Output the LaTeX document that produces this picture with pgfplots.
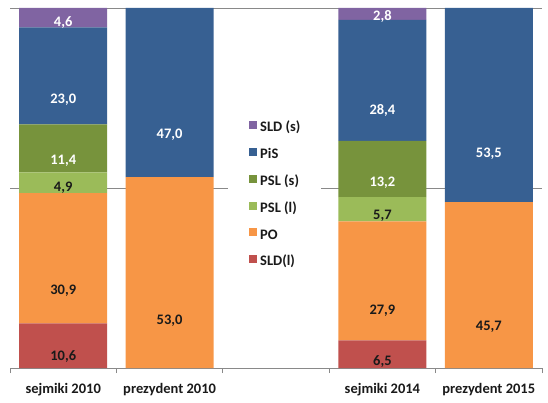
\documentclass[border=0pt]{standalone}
\usepackage{fontspec}
\setmainfont{Carlito}
\usepackage{pgfplots}
\usepackage{pgfplotstable}
\pgfplotsset{compat=1.18}
\usetikzlibrary{calc}

\definecolor{cSLDs}{HTML}{8064A2}
\definecolor{cPiS}{HTML}{376092}
\definecolor{cPSLs}{HTML}{77933C}
\definecolor{cPSLl}{HTML}{9BBB59}
\definecolor{cPO}{HTML}{F79646}
\definecolor{cSLDl}{HTML}{C0504D}
\definecolor{cGrid}{HTML}{898989}
\definecolor{cText}{HTML}{1A1A1A}

% x: 0 sejmiki 2010, 1 prezydent 2010, 3 sejmiki 2014, 4 prezydent 2015
% pct = share of the bar (bars are 100% stacked), val = printed value
\pgfplotstableread{
x pct val
0 12.412 10.6
1 0 0
3 7.692 6.5
4 0 0
}\tSLDl
\pgfplotstableread{
x pct val
0 36.183 30.9
1 53.0 53.0
3 33.018 27.9
4 46.069 45.7
}\tPO
\pgfplotstableread{
x pct val
0 5.738 4.9
1 0 0
3 6.746 5.7
4 0 0
}\tPSLl
\pgfplotstableread{
x pct val
0 13.349 11.4
1 0 0
3 15.621 13.2
4 0 0
}\tPSLs
\pgfplotstableread{
x pct val
0 26.932 23.0
1 47.0 47.0
3 33.609 28.4
4 53.931 53.5
}\tPiS
\pgfplotstableread{
x pct val
0 5.386 4.6
1 0 0
3 3.314 2.8
4 0 0
}\tSLDs

\pgfplotsset{
  seg/.style={
    fill=#1, draw=none,
    visualization depends on={\thisrow{pct} \as \pct},
    nodes near coords={\pgfmathfloatifflags{\pgfplotspointmeta}{0}{}{\pgfmathprintnumber[fixed,fixed zerofill,precision=1,use comma,assume math mode=true]{\pgfplotspointmeta}}},
    every node near coord/.append style={anchor=center, yshift=-\pct*0.9pt},
  },
}

\begin{document}
\begin{tikzpicture}[font=\fontsize{14.5}{17}\selectfont\bfseries]
\begin{axis}[
  scale only axis,
  width=532pt, height=360pt,
  ybar stacked,
  bar width=88pt,
  xmin=-0.5, xmax=4.5,
  ymin=0, ymax=100,
  enlarge x limits=false,
  enlarge y limits=false,
  axis line style={draw=none},
  xtick={0,1,2,3,4},
  xticklabels={sejmiki 2010, prezydent 2010, {}, sejmiki 2014, prezydent 2015},
  minor xtick={-0.5,0.5,1.5,2.5,3.5,4.5},
  xtick pos=bottom,
  ytick={0,50,100},
  yticklabels={},
  ymajorgrids,
  grid style={cGrid, line width=0.9pt},
  major tick length=0pt,
  minor tick length=5pt,
  tick align=outside,
  minor tick style={cGrid, line width=0.9pt},
  xticklabel style={anchor=base, yshift=-25pt, text=cText},
  point meta=explicit,
  reverse legend,
  legend cell align=left,
  legend image code/.code={\fill[#1] (0pt,-0.5pt) rectangle (8pt,7.5pt);},
  legend style={
    at={(0.4098,0.48)}, anchor=west,
    fill=white, draw=none,
    inner xsep=21pt, inner ysep=8pt,
    row sep=12.6pt,
    text=cText,
    nodes={inner sep=0pt, text height=10pt, text depth=3.5pt},
    /tikz/every odd column/.append style={column sep=3pt},
  },
]
\addplot[seg=cSLDl, every node near coord/.append style={text=cText}] table[x=x, y=pct, meta=val] {\tSLDl};
\addplot[seg=cPO, every node near coord/.append style={text=cText}] table[x=x, y=pct, meta=val] {\tPO};
\addplot[seg=cPSLl, every node near coord/.append style={text=cText}] table[x=x, y=pct, meta=val] {\tPSLl};
\addplot[seg=cPSLs, every node near coord/.append style={text=white}] table[x=x, y=pct, meta=val] {\tPSLs};
\addplot[seg=cPiS, every node near coord/.append style={text=white}] table[x=x, y=pct, meta=val] {\tPiS};
\addplot[seg=cSLDs, every node near coord/.append style={text=white}] table[x=x, y=pct, meta=val] {\tSLDs};
\legend{SLD(l), PO, PSL (l), PSL (s), PiS, SLD (s)}
\end{axis}
\pgfresetboundingbox
\path ($(current axis.south west)+(-10pt,-34pt)$) rectangle ($(current axis.north east)+(6pt,8pt)$);
\end{tikzpicture}
\end{document}
